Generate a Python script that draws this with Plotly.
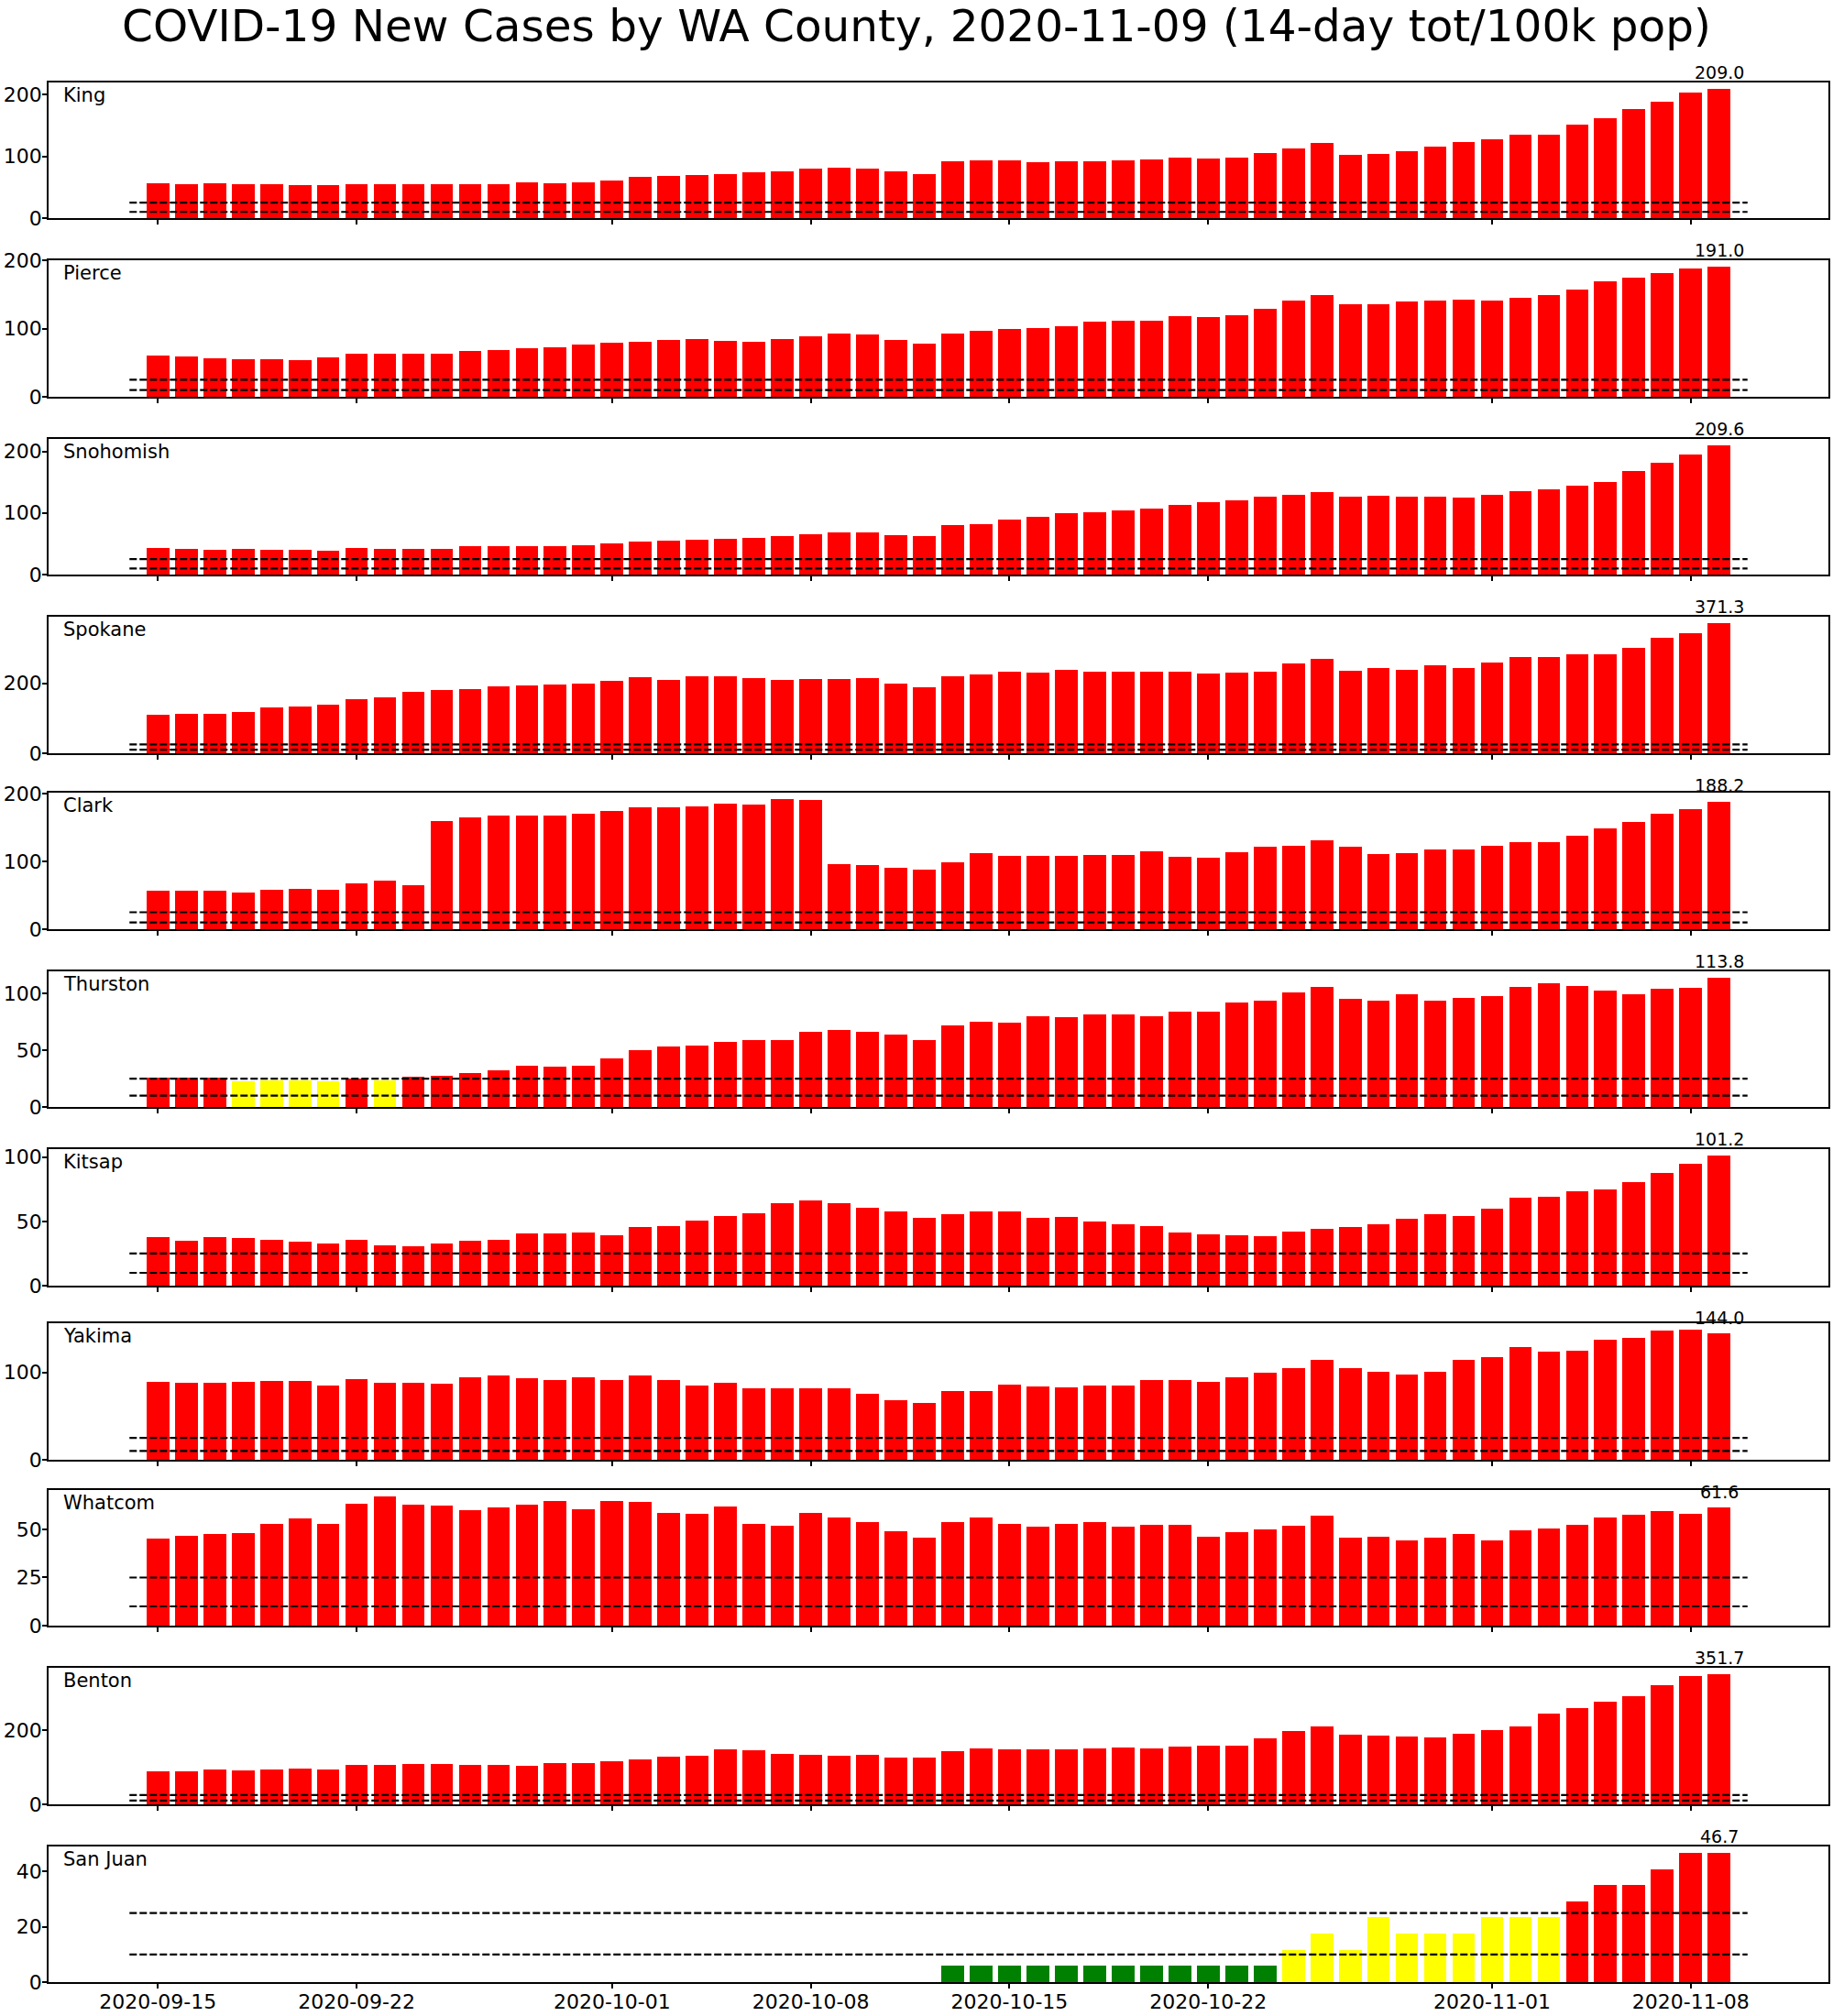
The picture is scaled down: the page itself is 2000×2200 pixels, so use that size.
import plotly.graph_objects as go
import pandas as pd

# ---------------- data ----------------
title_text = "COVID-19 New Cases by WA County, 2020-11-09 (14-day tot/100k pop)"
start_date = "2020-09-15"
counties = ["King", "Pierce", "Snohomish", "Spokane", "Clark", "Thurston",
            "Kitsap", "Yakima", "Whatcom", "Benton", "San Juan"]

king = [56.4, 55.0, 56.4, 55.0, 55.0, 53.5, 53.5, 55.0, 55.0, 55.0, 55.0, 55.0, 55.0, 58.0,
        56.4, 58.0, 61.0, 67.0, 68.3, 70.0, 71.3, 74.3, 75.7, 80.2, 81.7, 80.2, 75.7, 71.3,
        92.1, 93.6, 93.6, 90.6, 92.1, 92.1, 93.6, 95.0, 98.0, 96.5, 98.0, 105.4, 112.9, 121.8,
        102.5, 104.0, 108.4, 115.8, 123.3, 127.7, 135.1, 135.1, 151.5, 161.9, 176.7, 188.6,
        203.5, 209.0]
pierce = [60.4, 59.1, 56.4, 55.0, 55.0, 53.7, 57.7, 63.1, 63.1, 63.1, 63.1, 67.1, 68.5, 71.1,
          72.5, 76.5, 79.2, 80.5, 83.2, 84.6, 81.9, 80.5, 84.6, 88.6, 92.6, 91.3, 83.2, 77.9,
          92.6, 96.6, 99.3, 100.7, 103.4, 110.1, 111.4, 111.4, 118.1, 116.8, 119.5, 128.9,
          140.9, 149.0, 135.6, 135.6, 139.6, 140.9, 142.3, 140.9, 145.0, 149.0, 157.0, 169.1,
          174.5, 181.2, 187.9, 191.0]
snohomish = [43.6, 42.1, 40.6, 42.1, 40.6, 40.6, 39.1, 43.6, 42.1, 42.1, 42.1, 46.5, 46.5, 46.5,
             46.5, 48.0, 51.0, 54.0, 55.4, 56.9, 58.4, 59.9, 62.9, 65.8, 68.8, 68.8, 64.4, 62.9,
             80.7, 82.2, 89.6, 94.1, 100.0, 101.5, 104.5, 107.4, 113.4, 117.8, 120.8, 126.7,
             129.7, 134.2, 126.7, 128.2, 126.7, 126.7, 125.2, 129.7, 135.6, 138.6, 144.6, 150.5,
             168.3, 181.7, 195.0, 209.6]
spokane = [109.9, 112.5, 112.5, 117.7, 130.8, 133.4, 138.6, 154.3, 159.5, 175.2, 180.5, 183.1,
           190.9, 193.5, 196.2, 198.8, 206.6, 217.1, 209.2, 219.7, 219.7, 214.5, 209.2, 211.9,
           211.9, 214.5, 198.8, 188.3, 219.7, 224.9, 232.8, 230.2, 238.0, 232.8, 232.8, 232.8,
           232.8, 227.6, 230.2, 232.8, 256.3, 269.4, 235.4, 243.2, 238.0, 251.1, 243.2, 258.9,
           274.6, 274.6, 282.5, 282.5, 300.8, 329.6, 342.6, 371.3]
clark = [56.8, 56.8, 56.8, 54.0, 58.1, 59.5, 58.1, 67.6, 71.6, 64.9, 159.5, 164.9, 167.6, 167.6,
         167.6, 170.3, 174.3, 179.7, 179.7, 181.0, 185.1, 183.8, 191.9, 190.5, 95.9, 94.6, 90.5,
         87.8, 98.6, 112.2, 108.1, 108.1, 108.1, 109.5, 109.5, 114.9, 106.8, 105.4, 113.5, 121.6,
         123.0, 131.1, 121.6, 110.8, 112.2, 117.6, 117.6, 123.0, 128.4, 128.4, 137.8, 148.6,
         158.1, 170.3, 177.0, 188.2]
thurston = [25.6, 25.8, 25.6, 22.8, 23.7, 23.7, 22.8, 25.4, 23.7, 26.9, 27.7, 30.1, 32.5, 36.6,
            35.8, 36.6, 43.0, 50.3, 53.5, 54.3, 57.5, 59.1, 59.1, 66.4, 68.0, 66.4, 64.0, 59.1,
            72.0, 75.3, 74.5, 80.1, 79.3, 81.7, 81.7, 80.1, 84.1, 84.1, 92.2, 93.8, 101.1, 105.9,
            95.4, 93.8, 99.5, 93.8, 96.2, 97.8, 105.9, 109.1, 106.7, 102.7, 99.5, 104.3, 105.1,
            113.8]
kitsap = [37.8, 35.0, 37.8, 37.1, 35.7, 34.3, 32.9, 35.7, 31.4, 30.7, 32.9, 35.0, 35.7, 40.7,
          40.7, 41.4, 39.2, 45.6, 46.3, 50.6, 54.1, 56.3, 64.1, 66.2, 64.1, 60.5, 57.7, 52.7,
          55.6, 57.7, 57.7, 52.7, 53.4, 49.9, 47.8, 46.3, 41.4, 40.0, 39.2, 38.5, 42.1, 44.2,
          45.6, 47.8, 52.0, 55.6, 54.1, 59.8, 68.3, 69.0, 73.3, 74.7, 80.4, 87.5, 94.6, 101.2]
yakima = [88.8, 87.8, 87.8, 88.8, 89.9, 89.9, 84.6, 92.0, 87.8, 87.8, 86.7, 94.1, 96.2, 93.0,
          90.9, 94.1, 90.9, 96.2, 90.9, 84.6, 87.8, 81.5, 81.5, 81.5, 81.5, 75.2, 67.8, 64.7,
          78.3, 78.3, 85.7, 83.6, 82.5, 84.6, 84.6, 90.9, 90.9, 88.8, 94.1, 99.3, 104.5, 114.0,
          104.5, 100.3, 97.2, 100.3, 114.0, 117.1, 128.7, 123.4, 124.5, 137.1, 139.2, 147.6,
          148.6, 144.0]
whatcom = [45.3, 46.7, 47.6, 48.1, 52.8, 55.7, 52.8, 63.3, 67.1, 62.8, 62.3, 60.0, 61.4, 62.8,
           64.7, 60.4, 64.7, 64.2, 58.5, 58.1, 61.9, 52.8, 51.9, 58.5, 56.2, 53.8, 49.1, 45.7,
           53.8, 56.2, 52.8, 51.4, 52.8, 53.8, 51.4, 52.4, 52.4, 46.2, 48.6, 50.0, 51.9, 57.1,
           45.7, 46.2, 44.3, 45.7, 47.6, 44.3, 49.5, 50.5, 52.4, 56.2, 57.6, 59.5, 58.1, 61.6]
benton = [89.8, 89.8, 94.7, 92.3, 94.7, 97.2, 94.7, 107.1, 107.1, 109.6, 109.6, 107.1, 107.1,
          104.6, 112.0, 112.0, 117.0, 121.9, 129.3, 131.8, 149.1, 146.6, 136.7, 134.3, 131.8,
          134.3, 126.9, 126.9, 144.2, 151.6, 149.1, 149.1, 149.1, 151.6, 154.0, 151.6, 156.5,
          159.0, 159.0, 178.7, 198.5, 210.9, 188.6, 186.2, 183.7, 181.2, 191.1, 201.0, 210.9,
          245.5, 260.3, 277.6, 292.4, 322.1, 346.8, 351.7]
san_juan = [0, 0, 0, 0, 0, 0, 0, 0, 0, 0, 0, 0, 0, 0, 0, 0, 0, 0, 0, 0, 0, 0, 0, 0, 0, 0, 0, 0,
            5.84, 5.84, 5.84, 5.84, 5.84, 5.84, 5.84, 5.84, 5.84, 5.84, 5.84, 5.84,
            11.7, 17.5, 11.7, 23.4, 17.5, 17.5, 17.5, 23.4, 23.4, 23.4, 29.2, 35.0, 35.0, 40.9,
            46.7, 46.7]

series = [king, pierce, snohomish, spokane, clark, thurston, kitsap, yakima, whatcom, benton,
          san_juan]
y_dticks = [100, 100, 100, 200, 100, 50, 50, 100, 25, 200, 20]
date_ticks = ["2020-09-15", "2020-09-22", "2020-10-01", "2020-10-08", "2020-10-15",
              "2020-10-22", "2020-11-01", "2020-11-08"]
thresholds = [25, 10]

# ---------------- layout geometry (pixels of the page) ----------------
W, H = 2000, 2200
AX_LEFT, AX_RIGHT = 53, 1995
panel_px = [(90, 238), (284, 433), (479, 627), (673, 822), (865, 1014), (1060, 1208),
            (1254, 1403), (1444, 1593), (1626, 1774), (1820, 1969), (2015, 2163)]
FONT = "DejaVu Sans"
TICK_SIZE = 22

dates = pd.date_range(start_date, periods=len(king), freq="D")
day = pd.Timedelta(days=1)
x_lo = dates[0] - 1 * day
x_hi = dates[-1] + 1 * day
span = x_hi - x_lo
x_range = [x_lo - span * 0.05, x_hi + span * 0.05]


def bar_color(v):
    if v > 25:
        return "#ff0000"
    if v > 10:
        return "#ffff00"
    return "#008000"


fig = go.Figure()
annotations = []
n = len(counties)
for i, (name, vals) in enumerate(zip(counties, series)):
    k = "" if i == 0 else str(i + 1)
    xa, ya = "x" + k, "y" + k
    fig.add_trace(go.Bar(
        x=dates, y=vals, marker=dict(color=[bar_color(v) for v in vals], line=dict(width=0)),
        width=0.8 * 86400000, xaxis=xa, yaxis=ya, showlegend=False, hoverinfo="x+y"))
    for t in thresholds:
        fig.add_trace(go.Scatter(
            x=[x_lo, x_hi], y=[t, t], mode="lines", xaxis=xa, yaxis=ya, showlegend=False,
            line=dict(color="black", width=2.2, dash="8px,3px"), hoverinfo="skip"))
    top, bot = panel_px[i]
    y0, y1 = 1 - bot / H, 1 - top / H
    ymax = max(vals) * 1.05
    last = i == n - 1
    fig.update_layout(**{
        "xaxis" + k: dict(
            domain=[AX_LEFT / W, AX_RIGHT / W], anchor=ya, type="date", range=x_range,
            tickmode="array", tickvals=date_ticks,
            ticktext=date_ticks if last else [""] * len(date_ticks),
            showticklabels=last, ticks="outside", ticklen=5, tickwidth=1.5, tickcolor="black",
            ticklabelstandoff=-4,
            showline=True, mirror=True, linecolor="black", linewidth=1.6, showgrid=False,
            zeroline=False, automargin=False,
            tickfont=dict(family=FONT, size=TICK_SIZE, color="black")),
        "yaxis" + k: dict(
            domain=[y0, y1], anchor=xa, range=[0, ymax],
            tickmode="linear", tick0=0, dtick=y_dticks[i],
            ticks="outside", ticklen=5, tickwidth=1.5, tickcolor="black",
            ticklabelstandoff=-4,
            showline=True, mirror=True, linecolor="black", linewidth=1.6, showgrid=False,
            zeroline=False, automargin=False,
            tickfont=dict(family=FONT, size=TICK_SIZE, color="black")),
    })
    annotations.append(dict(
        text=name, xref=xa + " domain", yref=ya + " domain", x=0.007, y=0.997,
        xanchor="left", yanchor="top", showarrow=False,
        font=dict(family=FONT, size=21, color="black")))
    # last-value label: data y = last*1.1, converted to paper coords (may lie above the axes)
    y_lab = y0 + (vals[-1] * 1.1 / ymax) * (y1 - y0)
    annotations.append(dict(
        text=f"{vals[-1]:.1f}", xref=xa, yref="paper", x=dates[-1], y=y_lab,
        xanchor="center", yanchor="bottom", yshift=-9, showarrow=False,
        font=dict(family=FONT, size=19, color="black")))

fig.update_layout(
    width=W, height=H, template="none",
    paper_bgcolor="white", plot_bgcolor="white",
    margin=dict(l=0, r=0, t=0, b=0, pad=0),
    bargap=0,
    title=dict(text=title_text, x=0.5, xanchor="center", y=1 - 28 / H, yanchor="middle",
               font=dict(family=FONT, size=48.5, color="black")),
    annotations=annotations,
    showlegend=False,
)

fig.write_html("out.html", config={"displayModeBar": False},
               post_script="document.body.style.margin='0px';document.body.style.overflow='hidden';")
